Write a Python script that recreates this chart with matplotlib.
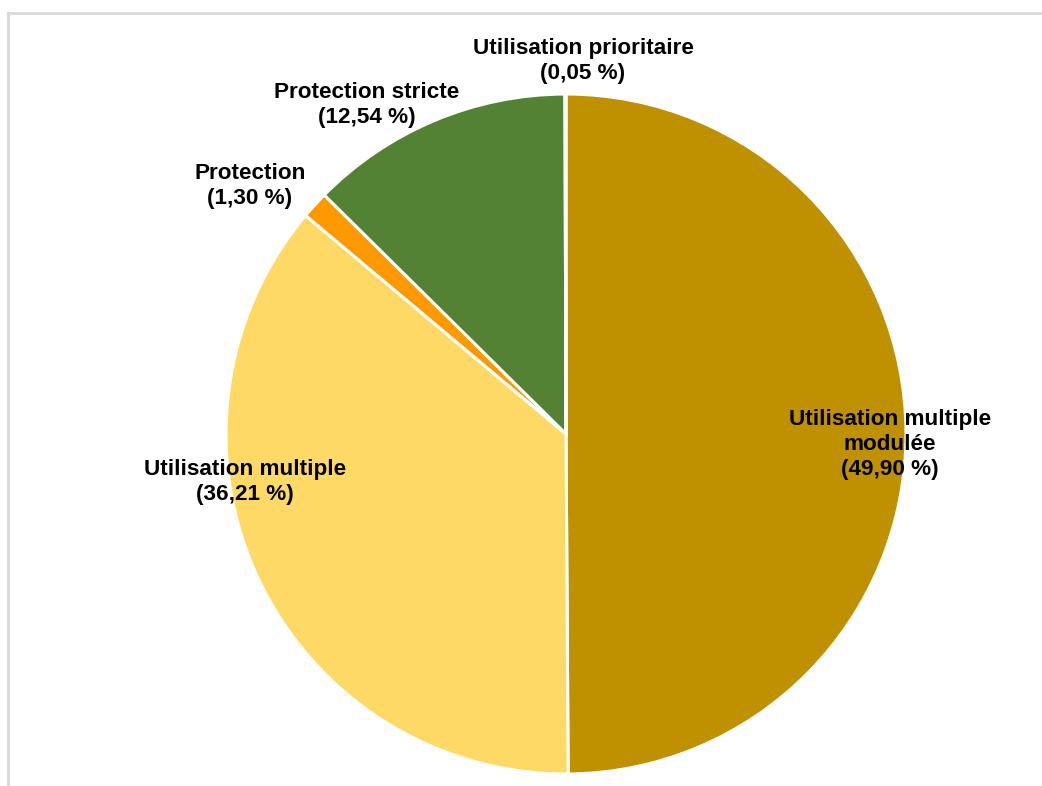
import matplotlib.pyplot as plt
from matplotlib.lines import Line2D

plt.rcParams['font.family'] = ['Liberation Sans', 'DejaVu Sans']

# shares of the territory by zoning category (%)
categories = ["Utilisation multiple\nmodulée", "Utilisation multiple", "Protection",
              "Protection stricte", "Utilisation prioritaire"]
shares = [49.90, 36.21, 1.30, 12.54, 0.05]
colors = ["#BF9000", "#FFD966", "#FF9900", "#548235", "#A5A5A5"]

# label anchor points (pie units, centre = 0,0, radius = 1)
label_pos = [(0.953, -0.03), (-0.944, -0.14), (-0.93, 0.73), (-0.585, 0.967), (0.05, 1.097)]

fig = plt.figure(figsize=(10.42, 7.86), dpi=100)
ax = fig.add_axes([0.2169, 0.01527, 0.6526, 0.8651])

wedges, _ = ax.pie(shares, colors=colors, startangle=90, counterclock=False, radius=1,
                   wedgeprops=dict(edgecolor="white", linewidth=2.2))
ax.set_xlim(-1, 1)
ax.set_ylim(-1, 1)
ax.set_aspect("equal")
ax.axis("off")

for name, val, (x, y) in zip(categories, shares, label_pos):
    txt = name + "\n(" + f"{val:.2f}".replace(".", ",") + " %)"
    ax.text(x, y, txt, ha="center", va="center", fontsize=16.2, fontweight="bold",
            color="black", linespacing=1.25)

# partial light-grey frame (left and top edges)
fig.add_artist(Line2D([8 / 1042, 8 / 1042], [0, 1 - 13 / 786], transform=fig.transFigure,
                      color="#D9D9D9", linewidth=2))
fig.add_artist(Line2D([8 / 1042, 1], [1 - 13 / 786, 1 - 13 / 786], transform=fig.transFigure,
                      color="#D9D9D9", linewidth=2))

fig.savefig("out.png", dpi=100)
